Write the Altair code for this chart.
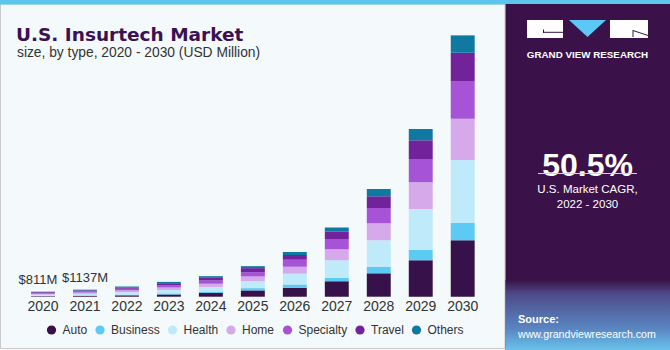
import altair as alt
import pandas as pd

# ---------------- data ----------------
years = ["2020", "2021", "2022", "2023", "2024", "2025", "2026", "2027", "2028", "2029", "2030"]
segments = ["Auto", "Business", "Health", "Home", "Specialty", "Travel", "Others"]
seg_colors = ["#37114A", "#5BCBF5", "#BEEAF9", "#D6A9EA", "#A653D7", "#72229B", "#0F79A1"]

auto = [90, 130, 220, 360, 600, 1020, 1460, 2490, 3790, 5900, 9140]
business = [60, 80, 120, 170, 230, 370, 530, 580, 1070, 1670, 2800]
health = [170, 250, 380, 560, 750, 1130, 1730, 2820, 4280, 6640, 10200]
home = [150, 210, 290, 400, 520, 760, 1130, 1780, 2750, 4330, 6690]
specialty = [150, 200, 280, 390, 520, 700, 1130, 1670, 2480, 3770, 6060]
travel = [120, 160, 220, 310, 430, 650, 760, 1180, 1900, 3030, 4630]
others = [71, 107, 140, 210, 280, 320, 490, 710, 1180, 1830, 2820]

label_years = ["2020", "2021"]
label_texts = ["$811M", "$1137M"]
label_totals = [811, 1137]

series = [auto, business, health, home, specialty, travel, others]
rows = []
for k, (name, vals) in enumerate(zip(segments, series)):
    for y, v in zip(years, vals):
        rows.append({"year": y, "type": name, "value": v, "ord": k})
df = pd.DataFrame(rows)

FONT = "Liberation Sans"

xscale = alt.Scale(domain=years, range=[22, 483.7], paddingInner=0.43, paddingOuter=0.215)
yscale = alt.Scale(domain=[0, 42350], range=[296.7, 35.3])

one = pd.DataFrame({"a": [0]})


def box(x1, x2, y1, y2, **kw):
    return alt.Chart(one).mark_rect(**kw).encode(
        x=alt.value(x1), x2=alt.value(x2), y=alt.value(y1), y2=alt.value(y2)
    )


def txt(text, x, y, font=FONT, **kw):
    return alt.Chart(one).mark_text(text=text, font=font, **kw).encode(
        x=alt.value(x), y=alt.value(y)
    )


def line(x1, y1, x2, y2, color, w=1):
    return alt.Chart(one).mark_rule(color=color, strokeWidth=w).encode(
        x=alt.value(x1), y=alt.value(y1), x2=alt.value(x2), y2=alt.value(y2)
    )


# ---------------- backgrounds ----------------
left_bg = box(0.5, 505, 4, 348.5, fill="#F4F9FC", stroke="#C9C9C9", strokeWidth=1)
top_stripe = box(0, 670, 0, 4.5, fill="#5CC6EE")
right_bg = box(505.5, 670, 4, 350, fill="#3A1249")
right_grad = box(
    505.5, 670, 280, 350,
    color=alt.Gradient(
        gradient="linear",
        stops=[
            alt.GradientStop(color="#3A1249", offset=0),
            alt.GradientStop(color="#4E4B8A", offset=0.2),
            alt.GradientStop(color="#5A86C2", offset=0.7),
            alt.GradientStop(color="#69C3EC", offset=1),
        ],
        x1=0, x2=0, y1=0, y2=1,
    ),
)

# ---------------- bars ----------------
bars = alt.Chart(df).mark_bar().encode(
    x=alt.X("year:N", scale=xscale, axis=None),
    y=alt.Y("sum(value):Q", scale=yscale, axis=None, stack="zero"),
    color=alt.Color(
        "type:N",
        scale=alt.Scale(domain=segments, range=seg_colors),
        legend=alt.Legend(
            orient="none", legendX=45.5, legendY=324, direction="horizontal",
            title=None, symbolType="circle", symbolSize=85, symbolStrokeWidth=0,
            labelFont=FONT, labelFontSize=12, labelColor="#333333",
            columnPadding=6.5, labelOffset=5,
        ),
    ),
    order=alt.Order("ord:Q"),
)

year_df = pd.DataFrame({"year": years})
year_labels = alt.Chart(year_df).mark_text(
    font=FONT, fontSize=14, color="#333333", baseline="middle"
).encode(x=alt.X("year:N", scale=xscale, axis=None), y=alt.value(307), text="year:N")

lab_df = pd.DataFrame({"year": label_years, "label": label_texts, "total": label_totals})


def value_label(year, dx):
    return alt.Chart(lab_df).transform_filter(alt.datum.year == year).mark_text(
        font=FONT, fontSize=13, color="#333333", baseline="bottom", dy=-5, dx=dx
    ).encode(
        x=alt.X("year:N", scale=xscale, axis=None),
        y=alt.Y("total:Q", scale=yscale, axis=None),
        text="label:N",
    )


value_labels = [value_label("2020", -5), value_label("2021", 0)]

# ---------------- titles ----------------
title = txt("U.S. Insurtech Market", 16, 35, font="DejaVu Sans", fontSize=18.5,
            fontWeight="bold", color="#3B1153", align="left")
subtitle = txt("size, by type, 2020 - 2030 (USD Million)", 17, 52.5, fontSize=13.8,
               color="#333333", align="left")

# ---------------- right panel ----------------
logo1 = box(527, 563, 20, 38, fill="white")
logo3 = box(610, 648, 20, 38, fill="white")
logo_tri = alt.Chart(one).mark_point(
    shape="M-1,-1L1,-1L0,-0.08Z", filled=True, fill="#5BC8F5", size=1369, opacity=1, strokeWidth=0
).encode(x=alt.value(587.5), y=alt.value(38.5))
logo_d1 = line(543.5, 32.3, 563, 32.3, "#3A1249", 1)
logo_d2 = line(543.5, 29.5, 543.5, 33, "#3A1249", 1)
logo_d3 = line(633, 30.5, 648, 35.5, "#3A1249", 1)
logo_d4 = line(633, 30, 633, 37, "#3A1249", 1)
logo_text = txt("GRAND VIEW RESEARCH", 587.5, 54.5, fontSize=9.8, fontWeight="bold",
                color="white", align="center")

cagr = txt("50.5%", 587.5, 166, fontSize=32, fontWeight="bold", color="white", align="center")
cagr_line = line(538, 173.5, 637, 173.5, "#D8D0E0", 1)
cagr_t1 = txt("U.S. Market CAGR,", 587.5, 190, fontSize=11.5, color="white", align="center")
cagr_t2 = txt("2022 - 2030", 587.5, 205, fontSize=11.5, color="white", align="center")
src1 = txt("Source:", 518, 320, fontSize=11, fontWeight="bold", color="white", align="left")
src2 = txt("www.grandviewresearch.com", 518, 335, fontSize=10.6, color="white", align="left")

chart = alt.layer(
    left_bg, top_stripe, right_bg, right_grad,
    bars, year_labels, *value_labels,
    title, subtitle,
    logo1, logo3, logo_tri, logo_d1, logo_d2, logo_d3, logo_d4, logo_text,
    cagr, cagr_line, cagr_t1, cagr_t2, src1, src2,
).properties(
    width=670, height=350,
    autosize=alt.AutoSizeParams(type="none"),
    padding=0,
    background="#FFFFFF",
).configure_view(stroke=None)

chart.save("out.html", embed_options={"renderer": "svg", "actions": False})
